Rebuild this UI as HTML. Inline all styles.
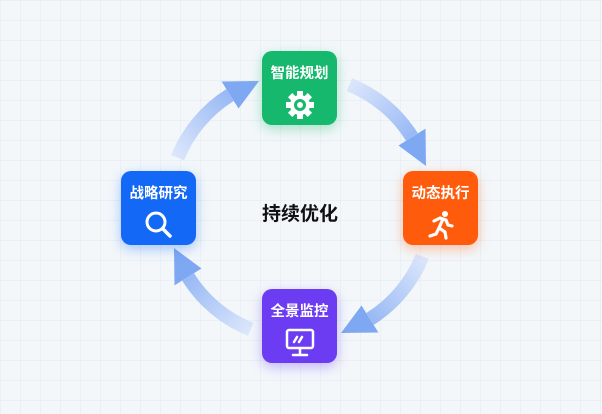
<!DOCTYPE html>
<html><head><meta charset="utf-8"><style>
body{margin:0;width:602px;height:414px;overflow:hidden;background:#f3f7fa;
background-image:linear-gradient(rgba(200,212,228,.2) 1px,transparent 1px),linear-gradient(90deg,rgba(200,212,228,.2) 1px,transparent 1px);background-size:20px 20px;font-family:"Liberation Sans","Noto Sans CJK SC",sans-serif;position:relative}
.b{position:absolute;width:75px;height:74px;border-radius:10px;color:#fff;font-weight:bold;font-size:14.5px;text-align:center;box-sizing:border-box;padding-top:11px}
.b svg{display:block;margin:7px auto 0}
.c{position:absolute;left:250px;top:199px;width:100px;text-align:center;font-size:19px;font-weight:bold;color:#111}
</style></head><body>
<svg width="602" height="414" style="position:absolute;left:0;top:0">
<defs><linearGradient id="g" gradientUnits="userSpaceOnUse" x1="349" y1="85" x2="426" y2="166">
<stop offset="0" stop-color="#dbe6fb"/><stop offset="1" stop-color="#7fa8f2"/></linearGradient></defs>
<g id="a">
<path d="M349.4 84.6 A132 132 0 0 1 411.9 137" fill="none" stroke="url(#g)" stroke-width="14"/>
<polygon points="398.5,145.5 425.5,128.6 426,166" fill="#7fa8f2"/>
</g>
<use href="#a" transform="rotate(90 300 207)"/>
<use href="#a" transform="rotate(180 300 207)"/>
<use href="#a" transform="rotate(270 300 207)"/>
</svg>
<div class="b" style="left:262px;top:51px;background:#16b86d;box-shadow:0 4px 12px rgba(22,184,109,.35)">智能规划
<svg width="30" height="30" viewBox="0 0 30 30"><g fill="#fff" transform="translate(15 15)">
<rect x="-3" y="-14" width="6" height="28"/><rect x="-3" y="-14" width="6" height="28" transform="rotate(45)"/><rect x="-3" y="-14" width="6" height="28" transform="rotate(90)"/><rect x="-3" y="-14" width="6" height="28" transform="rotate(135)"/>
<circle r="10"/></g><circle cx="15" cy="15" r="6" fill="#16b86d"/><circle cx="15" cy="15" r="3" fill="#fff"/></svg></div>
<div class="b" style="left:403px;top:171px;background:#ff5b0c;box-shadow:0 4px 12px rgba(255,91,12,.35)">动态执行
<svg width="30" height="30" viewBox="0 0 30 30"><circle cx="19" cy="4" r="3" fill="#fff"/><path d="M8 11 L14 8 L20 10 L22 15 L26 16 M17 9 L13 18 L19 22 L20 28 M13 18 L10 24 L4 26" stroke="#fff" stroke-width="3.2" fill="none" stroke-linecap="round" stroke-linejoin="round"/></svg></div>
<div class="b" style="left:121px;top:171px;background:#1468f6;box-shadow:0 4px 12px rgba(20,104,246,.35)">战略研究
<svg width="32" height="30" viewBox="0 0 32 30"><circle cx="13" cy="12" r="9" stroke="#fff" stroke-width="3" fill="none"/><line x1="20" y1="19" x2="27" y2="26" stroke="#fff" stroke-width="3.5" stroke-linecap="round"/></svg></div>
<div class="b" style="left:262px;top:289px;background:#6b3cf2;box-shadow:0 4px 12px rgba(107,60,242,.35)">全景监控
<svg width="32" height="30" viewBox="0 0 32 30"><rect x="3" y="2" width="26" height="18" rx="2" stroke="#fff" stroke-width="2.5" fill="none"/><path d="M10 14 L13 9 M15 14 L18 9 M16 20 V26 M9 27 H23" stroke="#fff" stroke-width="2.5" stroke-linecap="round"/></svg></div>
<div class="c">持续优化</div>
</body></html>
